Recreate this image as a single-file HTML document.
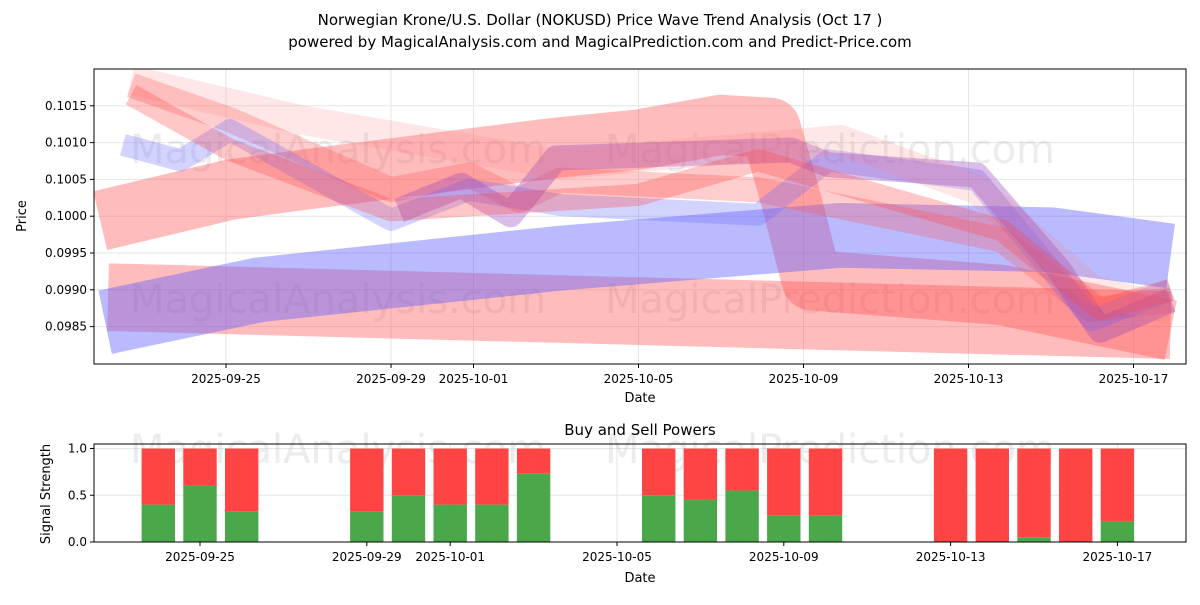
<!DOCTYPE html>
<html><head><meta charset="utf-8">
<style>
body{margin:0;background:#fff;font-family:"Liberation Sans","DejaVu Sans",sans-serif;}
svg text{font-family:"DejaVu Sans","Liberation Sans",sans-serif;}
</style></head>
<body>
<svg id="chart" width="1200" height="600" xmlns="http://www.w3.org/2000/svg">
<text x="600" y="25" text-anchor="middle" font-size="15" fill="#000">Norwegian Krone/U.S. Dollar (NOKUSD) Price Wave Trend Analysis (Oct 17 )</text>
<text x="600" y="47" text-anchor="middle" font-size="15" fill="#000">powered by MagicalAnalysis.com and MagicalPrediction.com and Predict-Price.com</text>
<g id="topArea"></g>
<g id="bottomArea"></g>
</svg>
<script>
// ---- data ----
const topDayLabels = ["2025-09-25","2025-09-29","2025-10-01","2025-10-05","2025-10-09","2025-10-13","2025-10-17"];
const topDayOffsets = [3,7,9,13,17,21,25]; // days since 2025-09-22
const priceTicks = [0.0985,0.0990,0.0995,0.1000,0.1005,0.1010,0.1015];
const bandColors = ["rgba(255,80,80,0.38)","rgba(255,80,80,0.38)","rgba(90,90,255,0.42)","rgba(255,90,90,0.3)","rgba(110,110,255,0.3)","rgba(150,70,190,0.35)","rgba(255,120,120,0.18)","rgba(255,70,70,0.3)"];
const bandWidths = [0.00082,0.00092,0.00088,0.00034,0.0003,0.00034,0.0004,0.0003];
const bandDays = [
 [-0.05,3.1,4.8,11,13,15,16.2,16.7,17.2,21.8,25.9],
 [0.14,25.9],
 [0.07,3.8,11.1,17.9,23.0,25.9],
 [0.7,3.1,7.0,8.9,10.1,11.1,15.9,21.8,24.0,25.9],
 [0.5,1.9,3.1,7.0,8.9,11.1,15.9,17.6,21.2,24.0,25.9],
 [7.2,8.7,9.9,11.0,16.7,17.6,21.2,23.2,24.2,25.9],
 [0.7,4.8,11.1,17.9,21.2,24.0,25.9],
 [0.7,3.1,7.0,13.0,15.9,21.8,24.2,25.9]
];
const bandPrices = [
 [0.09994,0.10036,0.10049,0.10093,0.10104,0.10124,0.10120,0.10022,0.09913,0.09893,0.09845],
 [0.09890,0.09852],
 [0.09856,0.09900,0.09943,0.09974,0.09968,0.09946],
 [0.10178,0.10131,0.10036,0.10056,0.10022,0.10049,0.10036,0.09968,0.09873,0.09886],
 [0.10097,0.10076,0.10117,0.09995,0.10036,0.10015,0.10002,0.10076,0.10049,0.09859,0.09900],
 [0.10008,0.10042,0.10002,0.10079,0.10090,0.10070,0.10056,0.09927,0.09845,0.09886],
 [0.10185,0.10131,0.10070,0.10104,0.10036,0.09900,0.09873],
 [0.10165,0.10090,0.10008,0.10029,0.10076,0.09981,0.09873,0.09900]
];
const barDays = [2,3,4,7,8,9,10,11,14,15,16,17,18,21,22,23,24,25];
const buyValues = [0.4,0.6,0.33,0.33,0.5,0.4,0.4,0.73,0.5,0.45,0.55,0.28,0.28,0,0,0.05,0,0.22];
const strengthTicks = [0,0.5,1.0];

const NS="http://www.w3.org/2000/svg";
function mk(tag,attrs,parent,txt){const e=document.createElementNS(NS,tag);for(const k in attrs)e.setAttribute(k,attrs[k]);if(txt!==undefined)e.textContent=txt;parent.appendChild(e);return e;}

// top axes
const T={x0:94,x1:1186,y0:69,y1:364};
const xT=d=>102.25+d*41.25;
const yT=p=>69+(0.1020-p)/0.001*73.6;
const topG=document.getElementById('topArea');
mk('rect',{x:T.x0,y:T.y0,width:T.x1-T.x0,height:T.y1-T.y0,fill:'#fff'},topG);
topDayOffsets.forEach(d=>mk('line',{x1:xT(d),x2:xT(d),y1:T.y0,y2:T.y1,stroke:'#e6e6e6'},topG));
priceTicks.forEach(p=>mk('line',{x1:T.x0,x2:T.x1,y1:yT(p),y2:yT(p),stroke:'#e6e6e6'},topG));
[[130,150,"MagicalAnalysis.com"],[605,150,"MagicalPrediction.com"],[130,300,"MagicalAnalysis.com"],[605,300,"MagicalPrediction.com"]].forEach(w=>{
 const t=mk('text',{x:w[0],y:w[1]+13,'font-size':40,fill:'rgba(180,180,180,0.25)'},topG,w[2]);
 
 
});
const clip=mk('clipPath',{id:'tc'},topG);mk('rect',{x:T.x0,y:T.y0,width:T.x1-T.x0,height:T.y1-T.y0},clip);
const bg=mk('g',{'clip-path':'url(#tc)'},topG);
bandDays.forEach((days,i)=>{
 const pts=days.map((d,j)=>xT(d)+','+yT(bandPrices[i][j])).join(' ');
 const pl=mk('polyline',{points:pts,fill:'none',stroke:bandColors[i],'stroke-width':bandWidths[i]/0.001*73.6,'stroke-linejoin':'round'},bg);
 
 
});
mk('rect',{x:T.x0,y:T.y0,width:T.x1-T.x0,height:T.y1-T.y0,fill:'none',stroke:'#000'},topG);
topDayOffsets.forEach((d,i)=>{mk('line',{x1:xT(d),x2:xT(d),y1:T.y1,y2:T.y1+4,stroke:'#000'},topG);
 const t=mk('text',{x:xT(d),y:T.y1+19,'text-anchor':'middle','font-size':12},topG,topDayLabels[i]);
 
 });
priceTicks.forEach(p=>{mk('line',{x1:T.x0-4,x2:T.x0,y1:yT(p),y2:yT(p),stroke:'#000'},topG);
 const t=mk('text',{x:T.x0-7,y:yT(p)+4,'text-anchor':'end','font-size':12},topG,p.toFixed(4));
 
 });
let t1=mk('text',{x:640,y:402,'text-anchor':'middle','font-size':13},topG,'Date');


let t2=mk('text',{x:26,y:216,'text-anchor':'middle','font-size':13,transform:'rotate(-90 26 216)'},topG,'Price');



// bottom axes
const B={x0:94,x1:1186,y0:444,y1:542};
const xB=d=>158.3+(d-2)*41.7;
const yB=v=>542-v*93.5;
const bot=document.getElementById('bottomArea');
const botTickDays=[3,7,9,13,17,21,25];
botTickDays.forEach(d=>mk('line',{x1:xB(d),x2:xB(d),y1:B.y0,y2:B.y1,stroke:'#e6e6e6'},bot));
strengthTicks.forEach(v=>mk('line',{x1:B.x0,x2:B.x1,y1:yB(v),y2:yB(v),stroke:'#e6e6e6'},bot));
[[130,"MagicalAnalysis.com"],[605,"MagicalPrediction.com"]].forEach(w=>{
 const t=mk('text',{x:w[0],y:463,'font-size':40,fill:'rgba(180,180,180,0.25)'},bot,w[1]);
 
 });
barDays.forEach((d,i)=>{
 const r=mk('rect',{x:xB(d)-16.7,y:yB(1),width:33.4,height:yB(buyValues[i])-yB(1),fill:'#ff4444'},bot);
 
 
 const g=mk('rect',{x:xB(d)-16.7,y:yB(buyValues[i]),width:33.4,height:yB(0)-yB(buyValues[i]),fill:'#4aa84a'},bot);
 
 
});
mk('rect',{x:B.x0,y:B.y0,width:B.x1-B.x0,height:B.y1-B.y0,fill:'none',stroke:'#000'},bot);
botTickDays.forEach((d,i)=>{mk('line',{x1:xB(d),x2:xB(d),y1:B.y1,y2:B.y1+4,stroke:'#000'},bot);
 const t=mk('text',{x:xB(d),y:B.y1+19,'text-anchor':'middle','font-size':12},bot,topDayLabels[i]);
 
 });
strengthTicks.forEach(v=>{mk('line',{x1:B.x0-4,x2:B.x0,y1:yB(v),y2:yB(v),stroke:'#000'},bot);
 const t=mk('text',{x:B.x0-7,y:yB(v)+4,'text-anchor':'end','font-size':12},bot,v.toFixed(1));
 
 });
let t3=mk('text',{x:640,y:435,'text-anchor':'middle','font-size':15},bot,'Buy and Sell Powers');


let t4=mk('text',{x:640,y:582,'text-anchor':'middle','font-size':13},bot,'Date');


let t5=mk('text',{x:50,y:494,'text-anchor':'middle','font-size':13,transform:'rotate(-90 50 494)'},bot,'Signal Strength');


</script>
</body></html>
